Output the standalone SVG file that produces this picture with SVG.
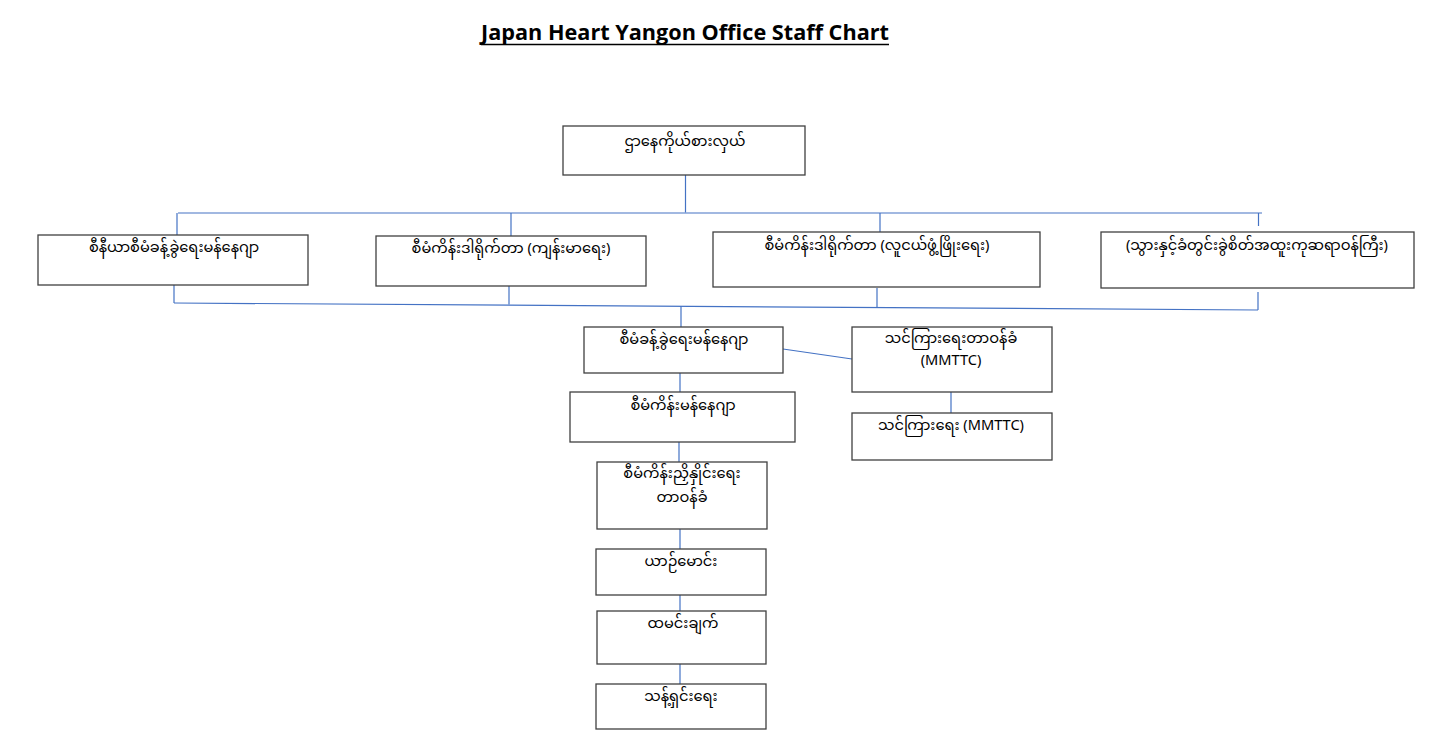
<svg xmlns="http://www.w3.org/2000/svg" width="1442" height="749" viewBox="0 0 1442 749">
<style>
.box{fill:#ffffff;stroke:#404040;stroke-width:1.3}
.lbl{font-family:"Noto Sans Myanmar","Padauk","Myanmar Text","Noto Sans",sans-serif;font-size:14.6px;fill:#000000;text-anchor:middle}
.conn line{stroke:#4472C4;stroke-width:1.2;fill:none}
.title{font-family:"Open Sans","Liberation Sans",sans-serif;font-size:22px;font-weight:bold;fill:#000000;text-anchor:middle}
</style>
<rect width="1442" height="749" fill="#ffffff"/>
<g id="title">
<text class="title" x="685" y="40" textLength="408" lengthAdjust="spacingAndGlyphs">Japan Heart Yangon Office Staff Chart</text>
<line x1="481" y1="44.5" x2="889" y2="44.5" stroke="#000000" stroke-width="1.6"/>
</g>
<g class="conn" id="connectors">
<line x1="685.5" y1="175" x2="685.5" y2="212.5"/>
<line x1="178" y1="213" x2="1262" y2="213"/>
<line x1="177" y1="213" x2="177" y2="235"/>
<line x1="511" y1="213" x2="511" y2="236"/>
<line x1="880" y1="213" x2="880" y2="232"/>
<line x1="1258.5" y1="213" x2="1258.5" y2="226"/>
<line x1="174" y1="285" x2="174" y2="303"/>
<line x1="509" y1="286" x2="509" y2="304.5"/>
<line x1="877" y1="288" x2="877" y2="307.5"/>
<line x1="1258" y1="292" x2="1258" y2="310"/>
<line x1="174" y1="303" x2="1258" y2="310"/>
<line x1="681" y1="306" x2="681" y2="327"/>
<line x1="783" y1="349" x2="852" y2="359"/>
<line x1="680" y1="373" x2="680" y2="392"/>
<line x1="679" y1="442" x2="679" y2="462"/>
<line x1="951" y1="392" x2="951" y2="413"/>
<line x1="680" y1="529" x2="680" y2="549"/>
<line x1="680" y1="595" x2="680" y2="611"/>
<line x1="680" y1="664" x2="680" y2="684"/>
</g>
<g id="n-rep"><rect class="box" x="563" y="126" width="242" height="49"/><text class="lbl" x="685" y="146">ဌာနေကိုယ်စားလှယ်</text></g>
<g id="n-senior-admin"><rect class="box" x="38" y="235" width="270" height="50"/><text class="lbl" x="174" y="252">စီနီယာစီမံခန့်ခွဲရေးမန်နေဂျာ</text></g>
<g id="n-pd-health"><rect class="box" x="376" y="236" width="270" height="50"/><text class="lbl" x="511" y="253">စီမံကိန်းဒါရိုက်တာ (ကျန်းမာရေး)</text></g>
<g id="n-pd-youth"><rect class="box" x="713" y="232" width="327" height="55"/><text class="lbl" x="877" y="250">စီမံကိန်းဒါရိုက်တာ (လူငယ်ဖွံ့ဖြိုးရေး)</text></g>
<g id="n-dental"><rect class="box" x="1101" y="232" width="313" height="56"/><text class="lbl" x="1257" y="250">(သွားနှင့်ခံတွင်းခွဲစိတ်အထူးကုဆရာဝန်ကြီး)</text></g>
<g id="n-admin"><rect class="box" x="584" y="327" width="199" height="46"/><text class="lbl" x="684" y="344">စီမံခန့်ခွဲရေးမန်နေဂျာ</text></g>
<g id="n-mmttc-lead"><rect class="box" x="852" y="327" width="200" height="65"/><text class="lbl" x="951" y="343"><tspan x="951" y="343">သင်ကြားရေးတာဝန်ခံ</tspan><tspan x="951" y="365">(MMTTC)</tspan></text></g>
<g id="n-mmttc"><rect class="box" x="852" y="413" width="200" height="47"/><text class="lbl" x="951" y="430">သင်ကြားရေး (MMTTC)</text></g>
<g id="n-pm"><rect class="box" x="570" y="392" width="225" height="50"/><text class="lbl" x="683" y="410">စီမံကိန်းမန်နေဂျာ</text></g>
<g id="n-coord"><rect class="box" x="597" y="462" width="170" height="67"/><text class="lbl" x="682" y="478"><tspan x="682" y="478">စီမံကိန်းညှိနှိုင်းရေး</tspan><tspan x="682" y="502">တာဝန်ခံ</tspan></text></g>
<g id="n-driver"><rect class="box" x="596" y="549" width="170" height="46"/><text class="lbl" x="681" y="566">ယာဉ်မောင်း</text></g>
<g id="n-cook"><rect class="box" x="597" y="611" width="169" height="53"/><text class="lbl" x="683" y="628">ထမင်းချက်</text></g>
<g id="n-clean"><rect class="box" x="596" y="684" width="170" height="45"/><text class="lbl" x="681" y="701">သန့်ရှင်းရေး</text></g>
</svg>
